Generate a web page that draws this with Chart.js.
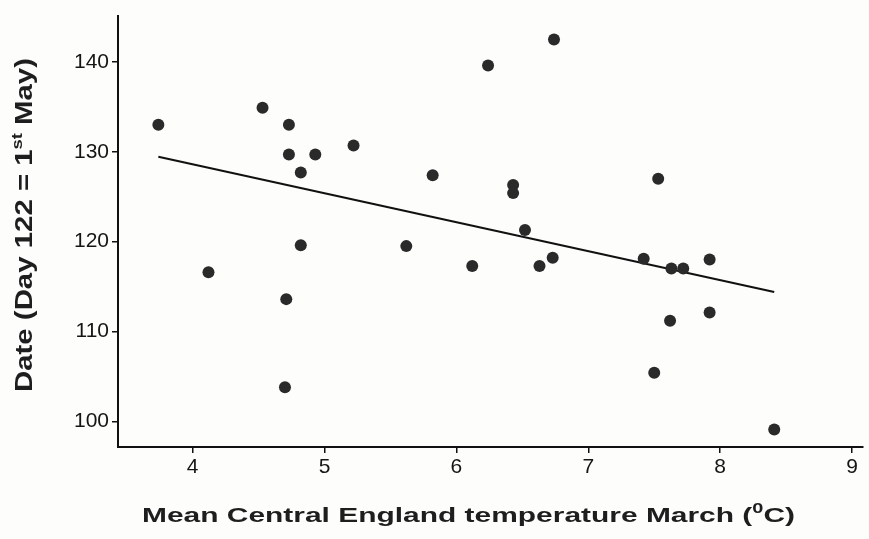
<!DOCTYPE html>
<html>
<head>
<meta charset="utf-8">
<script src="https://cdn.jsdelivr.net/npm/chart.js@4/dist/chart.umd.min.js"></script>
<style>
  html, body { margin: 0; padding: 0; background: #fdfdfb; }
  #wrap { width: 869px; height: 539px; position: relative; }
</style>
</head>
<body>
<div id="wrap"><canvas id="c" width="869" height="539"></canvas></div>
<script>
// Mean Central England temperature in March (°C)
const tempMarch = [3.74, 4.12, 4.53, 4.73, 4.73, 4.71, 4.70, 4.82, 4.82, 4.93,
                   5.22, 5.62, 5.82, 6.12, 6.24, 6.43, 6.43, 6.52, 6.63, 6.73,
                   6.74, 7.42, 7.53, 7.63, 7.72, 7.92, 7.92, 7.62, 7.50, 8.41];
// Date (day of year, 122 = 1st May)
const dayOfYear = [133.0, 116.6, 134.9, 133.0, 129.7, 113.6, 103.8, 127.7, 119.6, 129.7,
                   130.7, 119.5, 127.4, 117.3, 139.6, 126.3, 125.4, 121.3, 117.3, 118.2,
                   142.5, 118.1, 127.0, 117.0, 117.0, 118.0, 112.1, 111.2, 105.4, 99.1];
// Fitted regression line (end points)
const trendX = [3.74, 8.41];
const trendY = [129.45, 114.4];
// Axis ticks
const xTicks = [4, 5, 6, 7, 8, 9];
const yTicks = [100, 110, 120, 130, 140];

const xTitleRuns = [{t: 'Mean Central England temperature March ('}, {t: '0', sup: true}, {t: 'C)'}];
const yTitleRuns = [{t: 'Date (Day 122 = 1'}, {t: 'st', sup: true}, {t: ' May)'}];

const points = tempMarch.map((x, i) => ({x: x, y: dayOfYear[i]}));
const trend = trendX.map((x, i) => ({x: x, y: trendY[i]}));

function drawRuns(ctx, runs, size, supSize, supRise, cx, cy, targetLen, angle) {
  ctx.save();
  const main = 'bold ' + size + 'px "Liberation Sans", Arial, sans-serif';
  const sup = 'bold ' + supSize + 'px "Liberation Sans", Arial, sans-serif';
  let total = 0;
  const widths = runs.map(r => { ctx.font = r.sup ? sup : main; const w = ctx.measureText(r.t).width; total += w; return w; });
  const s = targetLen / total;
  ctx.translate(cx, cy);
  ctx.rotate(angle);
  ctx.scale(s, 1);
  ctx.fillStyle = '#1e1e1e';
  ctx.textBaseline = 'alphabetic';
  ctx.textAlign = 'left';
  let x = -total / 2;
  runs.forEach((r, i) => {
    ctx.font = r.sup ? sup : main;
    ctx.fillText(r.t, x, r.sup ? -supRise : 0);
    x += widths[i];
  });
  ctx.restore();
}

const titlePlugin = {
  id: 'titles',
  afterDraw(chart) {
    const ctx = chart.ctx;
    drawRuns(ctx, xTitleRuns, 21, 14, 9, 468.5, 522, 653, 0);
    drawRuns(ctx, yTitleRuns, 24, 15, 10, 32, 225, 334, -Math.PI / 2);
  }
};

const tickFont = { family: '"Liberation Sans", Arial, sans-serif', size: 21 };

new Chart(document.getElementById('c'), {
  type: 'scatter',
  data: {
    datasets: [
      {
        label: 'Observations',
        data: points,
        pointRadius: 6,
        pointHoverRadius: 6,
        pointBackgroundColor: '#2a2a2a',
        pointBorderColor: '#2a2a2a',
        pointBorderWidth: 0,
        showLine: false
      },
      {
        type: 'line',
        label: 'Regression',
        data: trend,
        borderColor: '#111',
        borderWidth: 2,
        pointRadius: 0,
        fill: false,
        tension: 0
      }
    ]
  },
  options: {
    responsive: false,
    animation: false,
    events: [],
    layout: { padding: { left: 0, right: 3, top: 10, bottom: 0 } },
    plugins: { legend: { display: false }, tooltip: { enabled: false }, title: { display: false } },
    scales: {
      x: {
        type: 'linear',
        min: 3.434,
        max: 9.083,
        afterBuildTicks: s => { s.ticks = xTicks.map(v => ({value: v})); },
        afterFit: s => { s.height = 92; },
        grid: { display: true, drawOnChartArea: false, drawTicks: true, tickLength: 6, color: '#111', lineWidth: 1.5 },
        border: { display: true, color: '#111', width: 2 },
        ticks: { color: '#151515', font: tickFont, padding: 2, maxRotation: 0 }
      },
      y: {
        type: 'linear',
        min: 97.14,
        max: 145.16,
        afterBuildTicks: s => { s.ticks = yTicks.map(v => ({value: v})); },
        afterFit: s => { s.width = 118; },
        grid: { display: true, drawOnChartArea: false, drawTicks: true, tickLength: 6, color: '#111', lineWidth: 1.5 },
        border: { display: true, color: '#111', width: 2 },
        ticks: { color: '#151515', font: tickFont, padding: 3 }
      }
    }
  },
  plugins: [titlePlugin]
});
</script>
</body>
</html>
